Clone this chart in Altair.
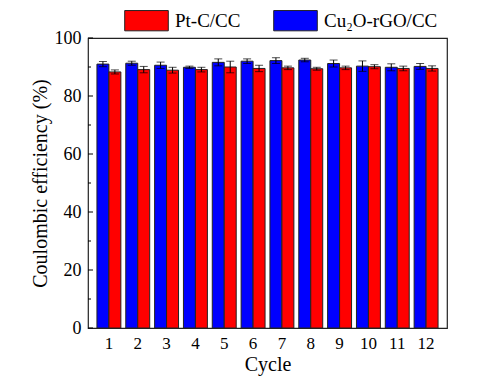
import altair as alt
import pandas as pd

cycles = [str(i) for i in range(1, 13)]
series = ["Pt-C/CC", "Cu₂O-rGO/CC"]
colors = ["#ff0000", "#0000ff"]

cu_vals = [91.0, 91.3, 90.6, 89.9, 91.6, 92.0, 92.2, 92.4, 91.2, 90.3, 89.9, 90.2]
cu_err = [0.9, 0.7, 1.1, 0.4, 1.2, 0.8, 1.0, 0.6, 1.2, 1.8, 1.2, 1.0]
pt_vals = [88.3, 89.1, 88.9, 89.1, 90.0, 89.5, 89.7, 89.4, 89.7, 90.1, 89.5, 89.5]
pt_err = [0.7, 1.1, 1.0, 0.8, 2.0, 1.1, 0.6, 0.5, 0.6, 0.7, 0.8, 0.9]

major_ticks = [0, 20, 40, 60, 80, 100]
minor_ticks = [10, 30, 50, 70, 90]

rows = []
for i, c in enumerate(cycles):
    rows.append(dict(cycle=c, series=series[1], value=cu_vals[i], err=cu_err[i]))
    rows.append(dict(cycle=c, series=series[0], value=pt_vals[i], err=pt_err[i]))
df = pd.DataFrame(rows)
df["lo"] = df["value"] - df["err"]
df["hi"] = df["value"] + df["err"]

FONT = "Liberation Serif"

x_axis = alt.Axis(labelAngle=0, ticks=False, domain=False, title="Cycle",
                  labelFont=FONT, titleFont=FONT, labelColor="black", titleColor="black",
                  labelFontSize=17, titleFontSize=20, labelPadding=7,
                  titlePadding=3, titleFontWeight="normal")
y_axis = alt.Axis(values=major_ticks, ticks=False, domain=False, grid=False,
                  title="Coulombic efficiency (%)",
                  labelFont=FONT, titleFont=FONT, labelColor="black", titleColor="black",
                  labelFontSize=18, titleFontSize=20, labelPadding=7, titlePadding=4,
                  titleFontWeight="normal")
y_scale = alt.Scale(domain=[0, 100], nice=False)

x = alt.X("cycle:N", sort=cycles,
          scale=alt.Scale(paddingInner=0.17, paddingOuter=0.31), axis=x_axis)
xo = alt.XOffset("series:N", scale=alt.Scale(domain=[series[1], series[0]]))

sym = "M-1,-0.465L1,-0.465L1,0.465L-1,0.465Z"

base = alt.Chart(df)
bars = base.mark_bar(stroke="#222222", strokeWidth=1).encode(
    x=x, xOffset=xo, y=alt.Y("value:Q", scale=y_scale, axis=y_axis),
    color=alt.Color("series:N", scale=alt.Scale(domain=series, range=colors),
                    legend=alt.Legend(orient="none", legendX=36, legendY=-40,
                                      direction="horizontal", title=None,
                                      symbolType=sym, symbolSize=1900,
                                      symbolStrokeColor="#222222", symbolStrokeWidth=1,
                                      symbolOpacity=1, labelFont=FONT, labelColor="black",
                                      labelFontSize=19, labelOffset=6,
                                      columnPadding=30, labelLimit=300)),
)
err = base.mark_rule(color="black", strokeWidth=1).encode(
    x=x, xOffset=xo, y=alt.Y("lo:Q", scale=y_scale, axis=y_axis), y2="hi:Q")
cap_hi = base.mark_tick(color="black", size=8, thickness=1, orient="horizontal").encode(
    x=x, xOffset=xo, y=alt.Y("hi:Q", scale=y_scale, axis=y_axis))
cap_lo = base.mark_tick(color="black", size=8, thickness=1, orient="horizontal").encode(
    x=x, xOffset=xo, y=alt.Y("lo:Q", scale=y_scale, axis=y_axis))

major = alt.Chart(pd.DataFrame({"t": major_ticks})).mark_rule(color="black").encode(
    y=alt.Y("t:Q", scale=y_scale, axis=y_axis), x=alt.value(0), x2=alt.value(5))
minor = alt.Chart(pd.DataFrame({"t": minor_ticks})).mark_rule(color="black").encode(
    y=alt.Y("t:Q", scale=y_scale, axis=y_axis), x=alt.value(0), x2=alt.value(3))

chart = alt.layer(bars, err, cap_hi, cap_lo, major, minor).properties(
    width=359, height=290,
    autosize=alt.AutoSizeParams(type="none"),
    padding={"left": 80, "top": 30, "right": 20, "bottom": 50},
).configure(font=FONT).configure_view(
    stroke="#222222", strokeWidth=1.2
).configure_axis(labelFont=FONT, titleFont=FONT)

chart.save("out.html", embed_options={"renderer": "svg", "actions": False})
